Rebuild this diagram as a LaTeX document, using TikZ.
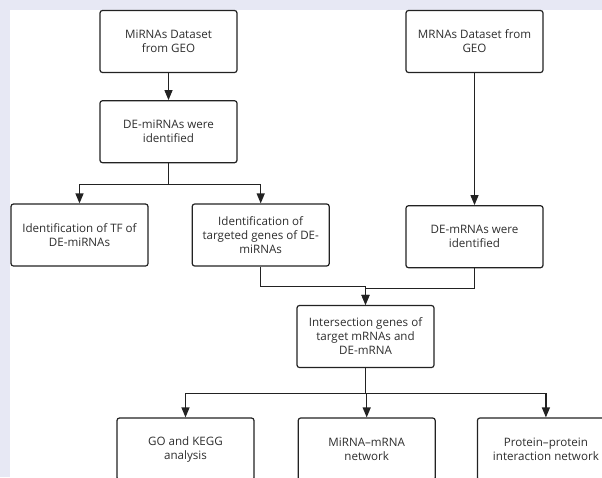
\documentclass[tikz,border=0pt]{standalone}
\usepackage{fontspec}
\setmainfont{Open Sans}
\usetikzlibrary{positioning}
\usetikzlibrary{arrows.meta}

\definecolor{bgpurple}{HTML}{E7E8F4}
\definecolor{inkgray}{HTML}{222222}
\definecolor{textgray}{HTML}{2E2E2E}

\begin{document}
\begin{tikzpicture}[x=1pt,y=-1pt]
	\tikzset{stepbox/.style={draw=inkgray,line width=1.2pt,rounded corners=2.5pt,fill=white,
			minimum width=137pt,minimum height=62pt,inner sep=2pt,align=center,
			text=textgray,font=\fontsize{11.6}{14}\selectfont},
		flow/.style={draw=inkgray,line width=1.2pt},
		>={Triangle[length=10pt,width=8pt]}}

\useasboundingbox (0,0) rectangle (602,477);
\clip (0,0) rectangle (602,477);
\fill[bgpurple] (0,0) rectangle (602,477);
\fill[white] (10,10) rectangle (602,477);

% miRNA branch
\node[stepbox] (mirgeo) at (168.5,41.5) {MiRNAs Dataset\\from GEO};
\node[stepbox] (demir) [below = 27pt of mirgeo] {DE-miRNAs were\\identified};
\node[stepbox] (tf) at (79.5,235) {Identification of TF of\\DE-miRNAs};
\node[stepbox] (target) [right = 43pt of tf] {Identification of\\targeted genes of DE-\\miRNAs};

% mRNA branch
\node[stepbox] (mrgeo) at (474.5,41.5) {MRNAs Dataset from\\GEO};
\node[stepbox] (demr) [below = 132pt of mrgeo] {DE-mRNAs were\\identified};

\node[stepbox] (inter) at (365.5,336.5) {Intersection genes of\\target mRNAs and\\DE-mRNA};

% analyses
\node[stepbox] (gokegg) at (185.5,449) {GO and KEGG\\analysis};
\node[stepbox] (mirnet) [right = 43pt of gokegg] {MiRNA–mRNA\\network};
\node[stepbox] (ppi) [right = 41pt of mirnet] {Protein–protein\\interaction network};

\draw[flow,->] (mirgeo) -- (demir);
\draw[flow,->] (demir.south) -- ++(0,21) -| (tf.north);
\draw[flow,->] (demir.south) -- ++(0,21) -| (target.north);
\draw[flow,->] (mrgeo) -- (demr);
\draw[flow,->] (target.south) -- ++(0,20) -| (inter.north);
\draw[flow,->] (demr.south) -- ++(0,20) -| (inter.north);
\draw[flow,->] (inter.south) -- ++(0,25) -| (gokegg.north);
\draw[flow,->] (inter.south) -- ++(0,25) -| (mirnet.north);
\draw[flow,->] (inter.south) -- ++(0,25) -| (ppi.north);
\end{tikzpicture}
\end{document}
